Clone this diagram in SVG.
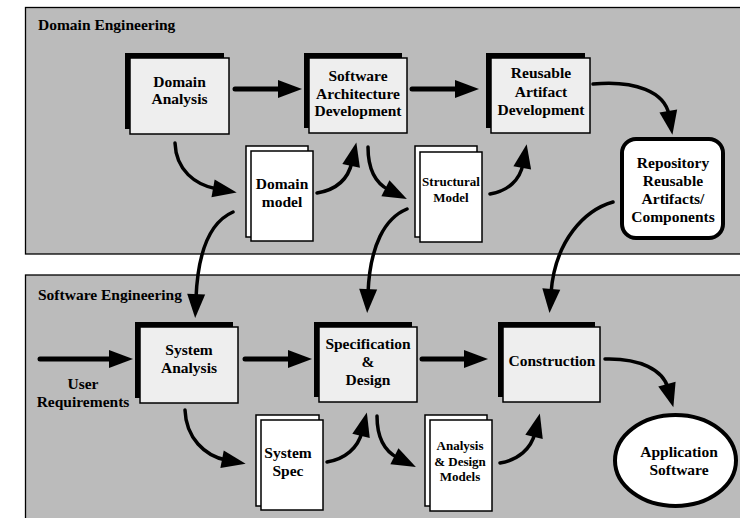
<svg xmlns="http://www.w3.org/2000/svg" width="740" height="518" viewBox="0 0 740 518">
<defs>
<marker id="ah" markerUnits="userSpaceOnUse" markerWidth="26" markerHeight="20" refX="4" refY="9" orient="auto" overflow="visible">
<path d="M0,0 L24,9 L0,18 z" fill="#000"/>
</marker>
<style>
.panel{fill:#bbbbbb;stroke:#000;stroke-width:1.3}
.shadow{fill:#000}
.box{fill:#eeeeee;stroke:#000;stroke-width:1.5}
.page{fill:#fff;stroke:#000;stroke-width:1.5}
.thick{fill:#fff;stroke:#000;stroke-width:4}
text{font-family:"Liberation Serif","Times New Roman",serif;font-weight:bold;font-size:15.5px;fill:#000;text-anchor:middle}
.title{text-anchor:start}
.small{font-size:13px}
.st{fill:none;stroke:#000;stroke-width:5;stroke-linecap:round;marker-end:url(#ah)}
.cv{fill:none;stroke:#000;stroke-width:3.5;stroke-linecap:round;marker-end:url(#ah)}
</style>
</defs>
<rect x="0" y="0" width="740" height="518" fill="#fff"/>
<g id="domain-engineering">
<rect class="panel" x="25.5" y="7.5" width="720" height="246.5"/>
<text class="title" x="38" y="30">Domain Engineering</text>
</g>
<g id="software-engineering">
<rect class="panel" x="25.5" y="275" width="720" height="250"/>
<text class="title" x="38" y="300">Software Engineering</text>
</g>
<g id="domain-analysis">
<rect class="shadow" x="125" y="53" width="99" height="76"/>
<rect class="box" x="130" y="58" width="99" height="76"/>
<text x="179.5" y="87">Domain</text>
<text x="179.5" y="104">Analysis</text>
</g>
<g id="software-architecture">
<rect class="shadow" x="304" y="53" width="98" height="75"/>
<rect class="box" x="309" y="58" width="98" height="75"/>
<text x="358" y="81">Software</text>
<text x="358" y="98.5">Architecture</text>
<text x="358" y="116">Development</text>
</g>
<g id="reusable-artifact">
<rect class="shadow" x="486" y="53" width="99" height="75"/>
<rect class="box" x="491" y="58" width="99" height="75"/>
<text x="541" y="78">Reusable</text>
<text x="541" y="96.5">Artifact</text>
<text x="541" y="115">Development</text>
</g>
<g id="repository">
<rect class="thick" x="622" y="139" width="101" height="99" rx="14"/>
<text x="673" y="168">Repository</text>
<text x="673" y="186">Reusable</text>
<text x="673" y="204">Artifacts/</text>
<text x="673" y="222">Components</text>
</g>
<g id="domain-model">
<rect class="page" x="246" y="146" width="62" height="91"/>
<rect class="page" x="251" y="151" width="62" height="90"/>
<text x="282" y="189">Domain</text>
<text x="282" y="207">model</text>
</g>
<g id="structural-model">
<rect class="page" x="415" y="146" width="62" height="91"/>
<rect class="page" x="420" y="152" width="62" height="90"/>
<text class="small" x="451" y="186">Structural</text>
<text class="small" x="451" y="202">Model</text>
</g>
<g id="system-analysis">
<rect class="shadow" x="135" y="322" width="98" height="76"/>
<rect class="box" x="140" y="327" width="98" height="76"/>
<text x="189" y="355">System</text>
<text x="189" y="373">Analysis</text>
</g>
<g id="user-requirements">
<text x="83" y="389">User</text>
<text x="83" y="407">Requirements</text>
</g>
<g id="specification-design">
<rect class="shadow" x="314" y="322" width="98" height="75"/>
<rect class="box" x="319" y="327" width="98" height="75"/>
<text x="368" y="349">Specification</text>
<text x="368" y="367">&amp;</text>
<text x="368" y="385">Design</text>
</g>
<g id="construction">
<rect class="shadow" x="498" y="322" width="97" height="75"/>
<rect class="box" x="503" y="327" width="97" height="75"/>
<text x="552" y="366">Construction</text>
</g>
<g id="application-software">
<ellipse class="thick" cx="675.5" cy="460.5" rx="60.5" ry="45.5"/>
<text x="679" y="457">Application</text>
<text x="679" y="475">Software</text>
</g>
<g id="system-spec">
<rect class="page" x="256" y="415" width="63" height="91"/>
<rect class="page" x="261" y="420" width="62" height="90"/>
<text x="288" y="458">System</text>
<text x="288" y="476">Spec</text>
</g>
<g id="analysis-design-models">
<rect class="page" x="425" y="415" width="62" height="91"/>
<rect class="page" x="430" y="420" width="62" height="91"/>
<text class="small" x="460" y="450">Analysis</text>
<text class="small" x="460" y="466">&amp; Design</text>
<text class="small" x="460" y="481">Models</text>
</g>
<g id="connectors">
<path class="st" d="M235,89 H282"/>
<path class="st" d="M412,89 H459"/>
<path class="cv" d="M593,84 C635,80 665,92 669,115"/>
<path class="cv" d="M175,143 C176,170 195,185 217,189"/>
<path class="cv" d="M317,193 C335,190 348,180 352,162"/>
<path class="cv" d="M368,147 C368,168 375,183 389,190"/>
<path class="cv" d="M490,194 C508,191 520,180 523,164"/>
<path class="cv" d="M233,212 C210,222 198,250 196,298"/>
<path class="cv" d="M407,209 C385,218 370,245 368,293"/>
<path class="cv" d="M613,202 C585,210 555,240 551,293"/>
<path class="st" d="M40,359 H113"/>
<path class="st" d="M245,359 H292"/>
<path class="st" d="M422,359 H468"/>
<path class="cv" d="M605,359 C640,358 663,370 668,388"/>
<path class="cv" d="M185,410 C186,438 205,456 226,460"/>
<path class="cv" d="M327,462 C345,459 358,448 362,432"/>
<path class="cv" d="M377,416 C377,437 384,451 398,458"/>
<path class="cv" d="M500,463 C518,460 531,449 535,433"/>
</g>
</svg>
